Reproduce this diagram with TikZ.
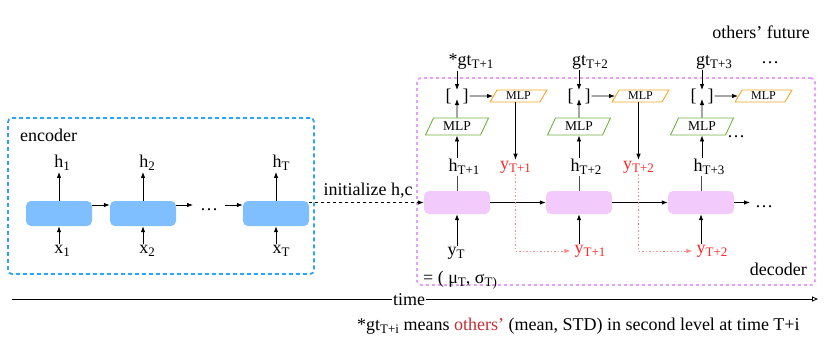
\documentclass[tikz,border=0pt]{standalone}
\usepackage{fontspec}
\setmainfont{Liberation Serif}
\usetikzlibrary{shapes.geometric,arrows.meta,calc}
\definecolor{encblue}{HTML}{7FBFFF}
\definecolor{encline}{HTML}{2FA4F5}
\definecolor{decfill}{HTML}{F2CBFC}
\definecolor{decline}{HTML}{E6A0F5}
\definecolor{mlpgreen}{HTML}{72B043}
\definecolor{mlporange}{HTML}{F5A623}
\definecolor{predred}{HTML}{FF2626}
\definecolor{dotred}{HTML}{FF8A8A}
\definecolor{notered}{HTML}{C62D32}
\newcommand\sbx[1]{\raisebox{-3pt}{\fontsize{13}{14}\selectfont #1}}
\begin{document}
\begin{tikzpicture}[x=1pt,y=-1pt,
  lbl/.style={font=\fontsize{18}{20}\selectfont, inner sep=1pt},
  red/.style={text=predred},
  encbox/.style={draw=encline, line width=1.8pt, dash pattern=on 4pt off 3pt, rounded corners=4pt, minimum width=306pt, minimum height=156pt, inner sep=0},
  decbox/.style={draw=decline, line width=1.8pt, dash pattern=on 3pt off 3pt, rounded corners=4pt, minimum width=398pt, minimum height=207pt, inner sep=0},
  enccell/.style={fill=encblue, rounded corners=5pt, minimum width=66pt, minimum height=25pt, inner sep=0},
  deccell/.style={fill=decfill, rounded corners=5pt, minimum width=66pt, minimum height=23pt, inner sep=0},
  gmlp/.style={trapezium, trapezium left angle=62, trapezium right angle=118, trapezium stretches=true, draw=mlpgreen, line width=0.9pt, minimum width=63pt, minimum height=17pt, inner sep=0, font=\fontsize{13.5}{14}\selectfont},
  omlp/.style={trapezium, trapezium left angle=63, trapezium right angle=117, trapezium stretches=true, draw=mlporange, line width=0.9pt, minimum width=57pt, minimum height=12pt, inner sep=0, font=\fontsize{12}{13}\selectfont},
  arr/.style={-{Latex[length=6pt,width=4.5pt]}, line width=0.8pt},
  gline/.style={line width=0.8pt, draw=black!70},
  dotarr/.style={draw=dotred, line width=0.8pt, dash pattern=on 1.5pt off 2pt, -{Latex[length=6pt,width=4.5pt]}, shorten >=3pt},
]
\useasboundingbox (0,0) rectangle (830,341);
% containers
\node[encbox] (encbox) at (161,196) {};
\node[decbox] (decbox) at (616,181.5) {};
\node[lbl, anchor=west] (enclbl) at (19,135) {encoder};
\node[lbl, anchor=east] (declbl) at (808,269) {decoder};
\node[lbl, anchor=east] (others) at (811,32) {others’ future};
% encoder
\node[enccell] (e1) at (59,213.5) {};
\node[enccell] (e2) at (143,213.5) {};
\node[enccell] (e3) at (276,213.5) {};
\node[lbl] (h1) at (62,163) {h\sbx{1}};
\node[lbl] (h2) at (147,163) {h\sbx{2}};
\node[lbl] (hT) at (281,163) {h\sbx{T}};
\node[lbl] (x1) at (62,251) {x\sbx{1}};
\node[lbl] (x2) at (147,251) {x\sbx{2}};
\node[lbl] (xT) at (281,251) {x\sbx{T}};
\draw[arr] (e1.north) -- (e1.north |- h1.south);
\draw[arr] (e2.north) -- (e2.north |- h2.south);
\draw[arr] (e3.north) -- (e3.north |- hT.south);
\draw[arr] (e1.south |- x1.north) -- (e1.south);
\draw[arr] (e2.south |- x2.north) -- (e2.south);
\draw[arr] (e3.south |- xT.north) -- (e3.south);
\node[lbl] (edots) at (209,210) {\dots};
\coordinate (ea1) at (193,205);
\coordinate (ea2) at (225,205);
\draw[arr] ([yshift=8.5pt]e1.east) -- ([yshift=8.5pt]e2.west);
\draw[arr] ([yshift=8.5pt]e2.east) -- (ea1);
\draw[arr] (ea2) -- ([yshift=8.5pt]e3.west);
% decoder cells
\node[deccell] (d1) at (457,202.5) {};
\node[deccell] (d2) at (579,202.5) {};
\node[deccell] (d3) at (701,202.5) {};
\draw[arr, dashed] (e3.east |- d1.west) -- (d1.west);
\node[lbl] (init) at (368,191) {initialize h,c};
\draw[arr] (d1.east) -- (d2.west);
\draw[arr] (d2.east) -- (d3.west);
\coordinate (dend) at (750,202.5);
\draw[arr] (d3.east) -- (dend);
\node[lbl] (ddots) at (764,207) {\dots};
% column 1
\node[lbl] (hd1) at (464,167) {h\sbx{T+1}};
\node[gmlp] (g1) at (457,126.5) {MLP};
\node[lbl] (b1) at (457,96) {[\hspace{11pt}]};
\node[lbl] (gt1) at (471,62) {*gt\sbx{T+1}};
\node[omlp] (o1) at (518.5,96) {MLP};
\node[lbl, red] (yo1) at (515.5,167) {y\sbx{T+1}};
\draw[gline] (d1.north) -- (d1.north |- hd1.south);
\draw[arr] (g1.south |- hd1.north) -- (g1.south);
\draw[arr] (g1.north) -- ([yshift=-3pt]b1.center);
\draw[arr] (b1.center |- gt1.south) -- ([yshift=6pt]b1.center);
\draw[arr] (b1.east) -- (o1.west);
\draw[arr] (yo1.north |- o1.south) -- (yo1.north);
\node[lbl] (yT) at (456,253) {y\sbx{T}};
\node[lbl] (eq) at (460,280) {= ( μ\sbx{T}, σ\sbx{T)}};
\draw[arr] (d1.south |- yT.north) -- (d1.south);
% column 2
\node[lbl] (hd2) at (586,167) {h\sbx{T+2}};
\node[gmlp] (g2) at (579,126.5) {MLP};
\node[lbl] (b2) at (579,96) {[\hspace{11pt}]};
\node[lbl] (gt2) at (590,62) {gt\sbx{T+2}};
\node[omlp] (o2) at (640.5,96) {MLP};
\node[lbl, red] (yo2) at (638.5,167) {y\sbx{T+2}};
\draw[gline] (d2.north) -- (d2.north |- hd2.south);
\draw[arr] (g2.south |- hd2.north) -- (g2.south);
\draw[arr] (g2.north) -- ([yshift=-3pt]b2.center);
\draw[arr] (b2.center |- gt2.south) -- ([yshift=6pt]b2.center);
\draw[arr] (b2.east) -- (o2.west);
\draw[arr] (yo2.north |- o2.south) -- (yo2.north);
\node[lbl, red] (yi2) at (590,251) {y\sbx{T+1}};
\draw[arr] (d2.south |- yi2.north) -- (d2.south);
\draw[dotarr] (yo1.south) |- (yi2.west);
% column 3
\node[lbl] (hd3) at (709,167) {h\sbx{T+3}};
\node[gmlp] (g3) at (702,126.5) {MLP};
\node[lbl] (b3) at (702,96) {[\hspace{11pt}]};
\node[lbl] (gt3) at (714,62) {gt\sbx{T+3}};
\node[omlp] (o3) at (763.5,96) {MLP};
\node[lbl] (tdots) at (770,63) {\dots};
\node[lbl] (mdots) at (736,137) {\dots};
\draw[gline] (d3.north) -- (d3.north |- hd3.south);
\draw[arr] (g3.south |- hd3.north) -- (g3.south);
\draw[arr] (g3.north) -- ([yshift=-3pt]b3.center);
\draw[arr] (b3.center |- gt3.south) -- ([yshift=6pt]b3.center);
\draw[arr] (b3.east) -- (o3.west);
\node[lbl, red] (yi3) at (712,251) {y\sbx{T+2}};
\draw[arr] (d3.south |- yi3.north) -- (d3.south);
\draw[dotarr] (yo2.south) |- (yi3.west);
% time axis
\node[lbl] (time) at (409,300) {time};
\coordinate (tstart) at (12,299);
\coordinate (tend) at (818,299);
\draw[line width=0.8pt] (tstart) -- (time.west |- tstart);
\draw[line width=0.8pt, -{Triangle[open,length=6pt,width=5pt]}] (time.east |- tend) -- (tend);
% note
\node[lbl, anchor=west] (note) at (356,326) {*gt\sbx{T+i} means \textcolor{notered}{others’} (mean, STD) in second level at time T+i};
\end{tikzpicture}
\end{document}
